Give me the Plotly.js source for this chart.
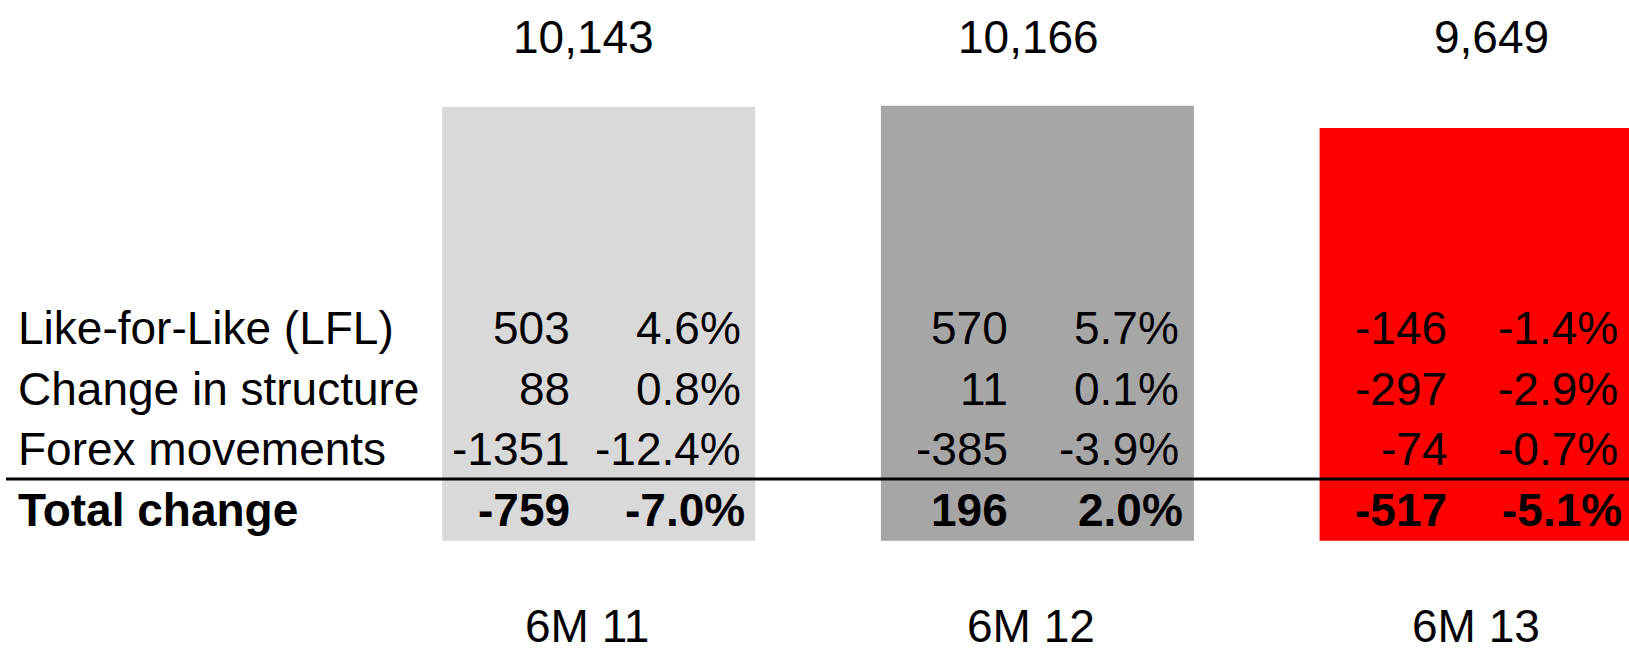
<!DOCTYPE html>
<html>
<head>
<meta charset="utf-8">
<script src="https://cdn.plot.ly/plotly-3.0.1.min.js"></script>
<style>html,body{margin:0;padding:0;background:#fff;}#chart{width:1629px;height:653px;}</style>
</head>
<body>
<div id="chart"></div>
<script>
// ---- data ----
const periods = ['6M 11', '6M 12', '6M 13'];
const sales = [10143, 10166, 9649];
const barColors = ['#d9d9d9', '#a6a6a6', '#ff0000'];
const rowLabels = ['Like-for-Like (LFL)', 'Change in structure', 'Forex movements', 'Total change'];
const lflAbs = [503, 570, -146];
const lflPct = [4.6, 5.7, -1.4];
const structAbs = [88, 11, -297];
const structPct = [0.8, 0.1, -2.9];
const forexAbs = [-1351, -385, -74];
const forexPct = [-12.4, -3.9, -0.7];
const totalAbs = [-759, 196, -517];
const totalPct = [-7.0, 2.0, -5.1];

// ---- layout helpers ----
const W = 1629, H = 653;
const FS = 46;
const FONT = 'Arial, "Liberation Sans", Helvetica, sans-serif';
// convert a text baseline (px from top) to a paper y for a middle-anchored annotation
function baseToPaper(base) { return 1 - (base - 0.34 * FS) / H; }

const annotations = [];
const fmt = n => n.toLocaleString('en-US');

// values above bars and period labels below
const topShift = [-15, -9, 15];
periods.forEach((p, i) => {
  annotations.push({x: p, xref: 'x', y: baseToPaper(53), yref: 'paper', text: fmt(sales[i]),
    showarrow: false, xanchor: 'center', yanchor: 'middle', xshift: topShift[i],
    font: {family: FONT, size: FS, color: '#000'}});
  annotations.push({x: p, xref: 'x', y: baseToPaper(642), yref: 'paper', text: p,
    showarrow: false, xanchor: 'center', yanchor: 'middle', xshift: -12 + i * 6,
    font: {family: FONT, size: FS, color: '#000'}});
});

// table rows
const rows = [
  {abs: lflAbs, pct: lflPct, base: 344, bold: false},
  {abs: structAbs, pct: structPct, base: 405, bold: false},
  {abs: forexAbs, pct: forexPct, base: 465, bold: false},
  {abs: totalAbs, pct: totalPct, base: 526, bold: true}
];
rows.forEach((r, k) => {
  const txt = s => r.bold ? '<b>' + s + '</b>' : s;
  annotations.push({x: 16 / W, xref: 'paper', y: baseToPaper(r.base), yref: 'paper',
    text: txt(rowLabels[k]), showarrow: false, xanchor: 'left', yanchor: 'middle',
    font: {family: FONT, size: FS, color: '#000'}});
  periods.forEach((p, i) => {
    annotations.push({x: p, xref: 'x', y: baseToPaper(r.base), yref: 'paper',
      text: txt(String(r.abs[i])), showarrow: false, xanchor: 'right', yanchor: 'middle',
      xshift: -27, font: {family: FONT, size: FS, color: '#000'}});
    annotations.push({x: p, xref: 'x', y: baseToPaper(r.base), yref: 'paper',
      text: txt(r.pct[i].toFixed(1) + '%'), showarrow: false, xanchor: 'right', yanchor: 'middle',
      xshift: r.bold ? 148 : 144, font: {family: FONT, size: FS, color: '#000'}});
  });
});

const trace = {
  type: 'bar',
  x: periods,
  y: sales,
  marker: {color: barColors, line: {width: 0}},
  hoverinfo: 'none'
};

const layout = {
  width: W, height: H,
  margin: {l: 0, r: 0, t: 0, b: 0, pad: 0},
  paper_bgcolor: '#fff', plot_bgcolor: '#fff',
  showlegend: false,
  bargap: 0.2865,
  xaxis: {type: 'category', range: [-1.3647, 2.3485], visible: false, fixedrange: true},
  yaxis: {range: [-2626, 12641], visible: false, fixedrange: true},
  shapes: [{type: 'line', xref: 'paper', yref: 'paper', x0: 6 / W, x1: 1,
    y0: 1 - 479 / H, y1: 1 - 479 / H, line: {color: '#000', width: 3}}],
  annotations: annotations,
  font: {family: FONT}
};

Plotly.newPlot('chart', [trace], layout, {staticPlot: true, displayModeBar: false});
</script>
</body>
</html>
